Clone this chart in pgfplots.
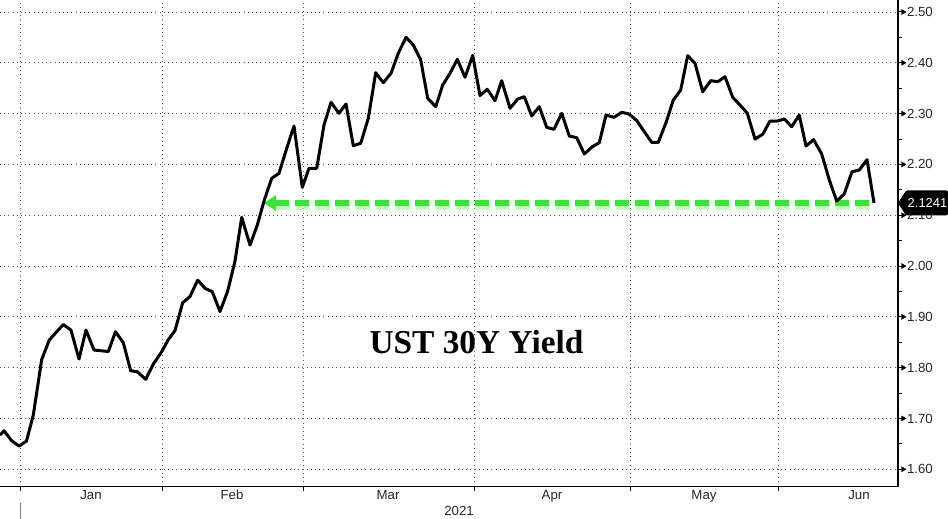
\documentclass[border=0pt]{standalone}
\usepackage{fontspec}
\setmainfont{Liberation Sans}
\newfontfamily\titlefont{Liberation Serif}
\usepackage{pgfplots}
\pgfplotsset{compat=1.18}
\usetikzlibrary{arrows.meta}
\usepackage{pgfplotstable}
\definecolor{limegreen}{RGB}{62,224,58}

% x = horizontal position on the date axis, y = yield
\pgfplotstableread{
x y
0 1.6673
4 1.6758
11.7 1.6561
19 1.6457
26.5 1.6555
33.3 1.7067
41.7 1.8159
49.3 1.8543
56.7 1.8707
63.3 1.8848
71 1.8740
79 1.8169
86 1.8740
94 1.8346
101 1.8333
108.3 1.8317
115.5 1.8707
123.3 1.8490
130.7 1.7939
137.3 1.7919
145.7 1.7770
153.3 1.8071
161.7 1.8313
168 1.8543
175 1.8730
182.7 1.9278
190 1.9400
197.7 1.9724
205 1.9561
212.3 1.9494
220 1.9104
227.7 1.9508
235 2.0098
241.7 2.0959
250 2.0413
257.3 2.0807
264.3 2.1299
271.7 2.1726
279 2.1825
286.7 2.2317
294 2.2756
302.3 2.1549
309 2.1923
316.7 2.1923
324 2.2776
331 2.3222
339 2.3006
346 2.3189
353.3 2.2368
360.7 2.2415
368.3 2.2907
375.7 2.3805
383.3 2.3608
391 2.3793
398.3 2.4187
406 2.4502
413.3 2.4350
420.7 2.4055
427.7 2.3301
435.7 2.3136
442.7 2.3563
450 2.3793
457.3 2.4069
465 2.3715
472.7 2.4144
480 2.3356
487.3 2.3478
495 2.3254
501.7 2.3648
510 2.3104
517.7 2.3287
524.3 2.3333
531.7 2.2953
539.3 2.3136
546.7 2.2730
554 2.2691
561.7 2.3006
569.3 2.2559
576.7 2.2526
584.3 2.2205
592.3 2.2348
599.3 2.2427
606 2.2972
614 2.2927
621.7 2.3026
629 2.2992
636.7 2.2864
644.3 2.2644
651.7 2.2435
658.3 2.2435
666 2.2821
673.3 2.3268
680.7 2.3465
687.7 2.4140
695 2.3990
702.7 2.3431
710.7 2.3648
717.7 2.3628
725 2.3726
732.7 2.3321
740 2.3169
747.3 2.3006
755 2.2500
762.7 2.2593
770 2.2854
777.3 2.2854
784.3 2.2894
791.7 2.2742
799.2 2.2972
806 2.2362
813.6 2.2488
821.7 2.2205
829.3 2.1693
836.7 2.1280
844.2 2.1417
852 2.1856
859.3 2.1890
867 2.2093
874 2.1241
}\ustdata

\begin{document}
\begin{tikzpicture}
\begin{axis}[
  at={(0,0)}, anchor=south west,
  scale only axis, width=898bp, height=486.7bp,
  xmin=0, xmax=898, ymin=1.5657, ymax=2.5236,
  clip=false,
  axis x line*=bottom, axis y line*=right,
  axis line style={line width=1.3bp, -},
  xtick={20,162,303,474,630,778},
  xticklabels={,,,,,},
  extra x ticks={91,232,388,552,704,859},
  extra x tick labels={Jan,Feb,Mar,Apr,May,Jun},
  extra x tick style={grid=none, major tick length=0pt},
  ytick={1.6,1.7,1.8,1.9,2.0,2.1,2.2,2.3,2.4,2.5},
  minor ytick={1.65,1.75,1.85,1.95,2.05,2.15,2.25,2.35,2.45},
  yticklabel style={/pgf/number format/fixed, /pgf/number format/fixed zerofill,
    /pgf/number format/precision=2, xshift=1.5bp},
  /pgf/number format/assume math mode=true,
  grid=major,
  major grid style={black!65, line width=0.75bp, dash pattern=on 1bp off 3.2bp},
  tick align=outside,
  major tick length=4bp, minor tick length=4bp,
  every tick/.style={black, line width=1bp},
  tick label style={font=\fontsize{13.3}{14}\selectfont, text=black!85},
]
% glow under the support line
\addplot[limegreen!35, opacity=0.75, line width=9.5bp, dash pattern=on 14bp off 6bp, yshift=-1.8bp]
  coordinates {(276,2.1241) (874,2.1241)};
% support line
\addplot[limegreen, line width=5.5bp, dash pattern=on 14bp off 6bp,
  {Triangle[length=12bp,width=15bp]}-]
  coordinates {(264,2.1241) (874,2.1241)};
% yield
\addplot[black, line width=3bp, line join=round] table[x=x,y=y] {\ustdata};
% arrow-shaped major ticks on the right axis
\addplot[only marks, mark=triangle*, mark size=3bp,
  mark options={xshift=5bp, rotate=-90, fill=black, draw=black}]
  coordinates {(898,1.6) (898,1.7) (898,1.8) (898,1.9) (898,2.0)
               (898,2.1) (898,2.2) (898,2.3) (898,2.4) (898,2.5)};
% last value tag
\fill[black, rounded corners=1.5bp] (axis cs:898,2.1241) -- ++(8bp,12.5bp) -- ++(42bp,0bp)
  -- ++(0bp,-25bp) -- ++(-42bp,0bp) -- cycle;
\node[white, anchor=west, inner sep=0pt, font=\fontsize{13}{14}\selectfont]
  at ([xshift=9.5bp]axis cs:898,2.1241) {2.1241};
% title
\node[font=\titlefont\bfseries\fontsize{33.5}{36}\selectfont] at (axis cs:476.5,1.8504) {UST 30Y Yield};
% year
\node[font=\fontsize{13.3}{14}\selectfont, text=black!85] at ([yshift=-24.5bp]axis cs:459,1.5657) {2021};
\draw[black!50, line width=0.8bp] ([yshift=-16bp]axis cs:20,1.5657) -- ([yshift=-33bp]axis cs:20,1.5657);
\end{axis}
\pgfresetboundingbox
\path (0,-32.3bp) rectangle (948bp,486.7bp);
\end{tikzpicture}
\end{document}
